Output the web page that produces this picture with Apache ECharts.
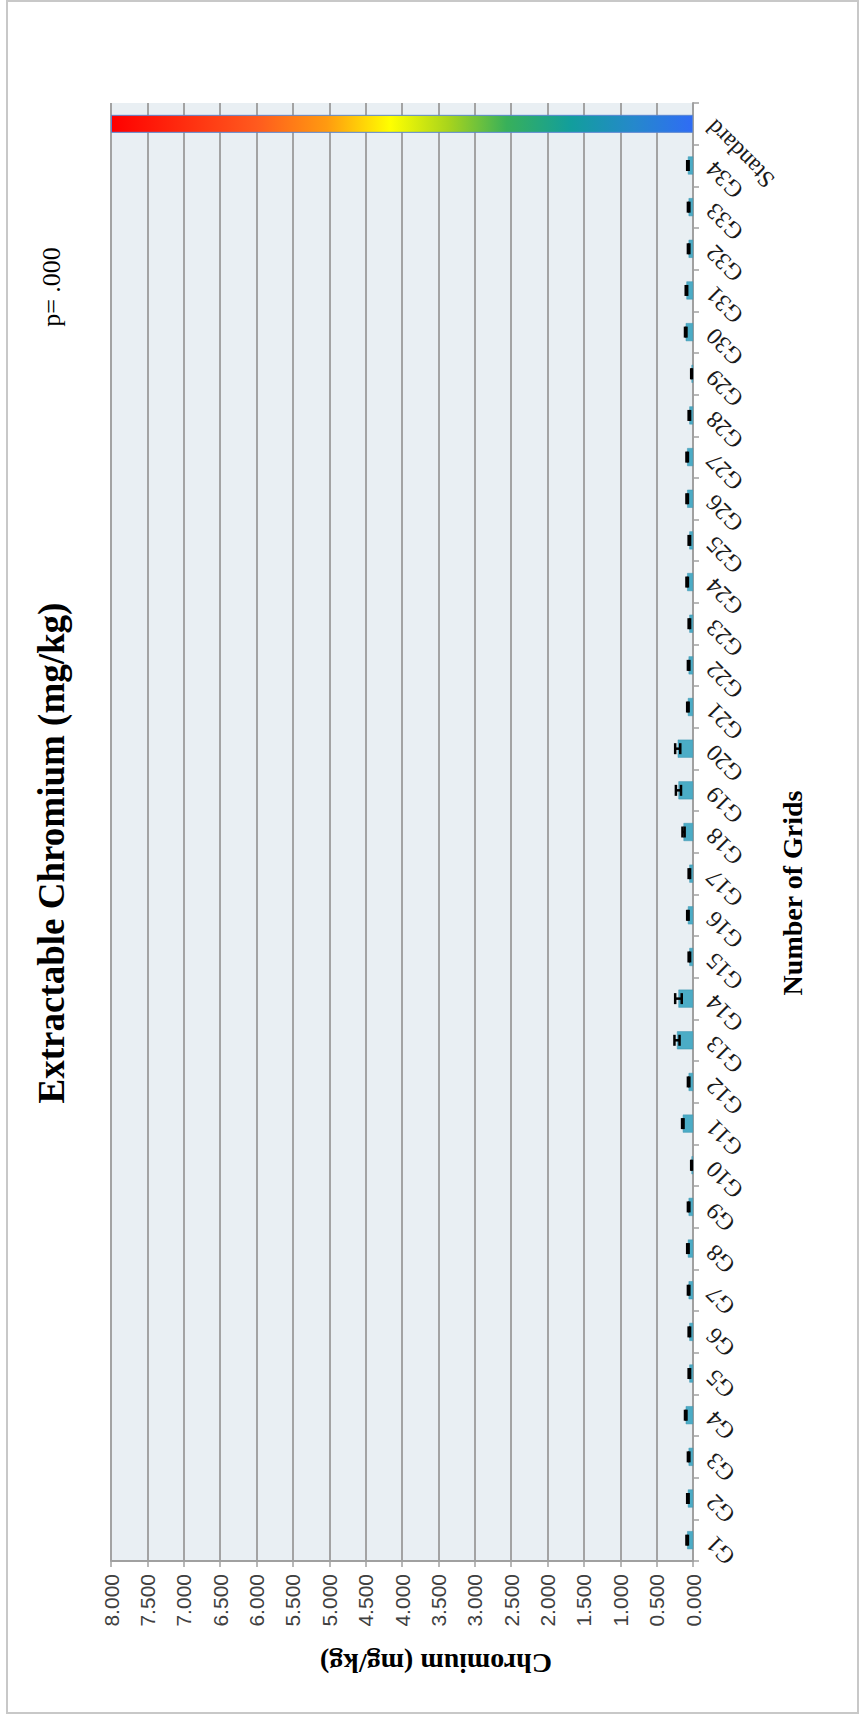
<!DOCTYPE html>
<html><head><meta charset="utf-8">
<script src="https://cdn.jsdelivr.net/npm/echarts@6/dist/echarts.min.js"></script>
<style>html,body{margin:0;padding:0;background:#fff}#c{width:861px;height:1718px}</style>
</head><body><div id="c"></div>
<script>
const categories = ['G1','G2','G3','G4','G5','G6','G7','G8','G9','G10','G11','G12','G13','G14','G15','G16','G17','G18','G19','G20','G21','G22','G23','G24','G25','G26','G27','G28','G29','G30','G31','G32','G33','G34','Standard'];
const means = [0.08,0.07,0.06,0.10,0.05,0.05,0.06,0.07,0.06,0.02,0.14,0.06,0.22,0.20,0.05,0.07,0.05,0.13,0.20,0.21,0.07,0.06,0.05,0.08,0.05,0.08,0.08,0.05,0.02,0.10,0.09,0.06,0.06,0.07,8.0];
const errors = [0.01,0.01,0.01,0.01,0.01,0.01,0.01,0.01,0.01,0.005,0.01,0.01,0.035,0.045,0.01,0.01,0.01,0.015,0.035,0.035,0.01,0.01,0.01,0.01,0.01,0.01,0.01,0.01,0.005,0.01,0.01,0.01,0.01,0.01,null];
const titleText = 'Extractable Chromium (mg/kg)';
const pText = 'p= .000';
const xName = 'Number of Grids';
const yName = 'Chromium (mg/kg)';

const serif = '"Liberation Serif", "Times New Roman", serif';
const sans = '"Liberation Sans", Arial, sans-serif';

const gradient = new echarts.graphic.LinearGradient(0, 0, 1, 0, [
  {offset: 0, color: '#ff0000'},
  {offset: 0.25, color: '#ff5a1e'},
  {offset: 0.37, color: '#ff9a10'},
  {offset: 0.48, color: '#ffff00'},
  {offset: 0.58, color: '#a8d41c'},
  {offset: 0.68, color: '#38b05a'},
  {offset: 0.79, color: '#129e9c'},
  {offset: 0.9, color: '#2588cc'},
  {offset: 1, color: '#2f6cf5'}
]);

const barData = means.map((v, i) => categories[i] === 'Standard'
  ? {value: v, itemStyle: {color: gradient, borderColor: '#5b86d0', borderWidth: 1}}
  : v);

const errData = [];
means.forEach((v, i) => {
  if (errors[i] != null) errData.push([categories[i], v - errors[i], v + errors[i]]);
});

const chart = echarts.init(document.getElementById('c'), null, {renderer: 'svg'});
chart.setOption({
  animation: false,
  backgroundColor: '#ffffff',
  grid: {left: 111, right: 168, top: 103, bottom: 157, show: true, backgroundColor: '#e9eff3', borderWidth: 0},
  xAxis: {
    type: 'value', inverse: true, min: 0, max: 8, interval: 0.5, position: 'bottom',
    axisLine: {show: true, lineStyle: {color: '#a0a0a0', width: 2}},
    axisTick: {show: true, length: 6, lineStyle: {color: '#a0a0a0', width: 1.5}},
    splitLine: {show: true, lineStyle: {color: '#a3a3a3', width: 2}},
    axisLabel: {rotate: 90, margin: 13, fontFamily: sans, fontSize: 21, color: '#404040',
      formatter: v => v.toFixed(3)}
  },
  yAxis: {
    type: 'category', data: categories, position: 'right',
    axisLine: {show: true, lineStyle: {color: '#a0a0a0', width: 2}},
    axisTick: {show: true, length: 6, alignWithLabel: false, lineStyle: {color: '#a0a0a0', width: 1.5}},
    splitLine: {show: false},
    axisLabel: {interval: 0, rotate: 135, align: 'right', verticalAlign: 'middle', margin: 17,
      fontFamily: serif, fontSize: 24, color: '#1a1a1a'}
  },
  series: [
    {type: 'bar', data: barData, barWidth: 18,
      itemStyle: {color: '#4bacc6', borderColor: '#3b93ae', borderWidth: 0.5}},
    {type: 'custom', z: 5,
      renderItem: function (params, api) {
        const cat = api.value(0);
        const a = api.coord([api.value(1), cat]);
        const b = api.coord([api.value(2), cat]);
        const h = 11;
        const st = {stroke: '#000000', lineWidth: 2.5};
        return {type: 'group', children: [
          {type: 'line', shape: {x1: a[0], y1: a[1], x2: b[0], y2: b[1]}, style: st},
          {type: 'line', shape: {x1: a[0], y1: a[1] - h / 2, x2: a[0], y2: a[1] + h / 2}, style: st},
          {type: 'line', shape: {x1: b[0], y1: b[1] - h / 2, x2: b[0], y2: b[1] + h / 2}, style: st}
        ]};
      },
      encode: {x: [1, 2], y: 0},
      data: errData}
  ],
  graphic: [
    {type: 'rect', z: -10, shape: {x: 7, y: 1, width: 851, height: 1712},
      style: {fill: 'none', stroke: '#c8c8c8', lineWidth: 2}},
    {type: 'text', x: 51, y: 853, rotation: Math.PI / 2,
      style: {text: titleText, font: 'bold 37px ' + serif, fill: '#000', align: 'center', verticalAlign: 'middle'}},
    {type: 'text', x: 51, y: 287, rotation: Math.PI / 2,
      style: {text: pText, font: '26px ' + serif, fill: '#000', align: 'center', verticalAlign: 'middle'}},
    {type: 'text', x: 792, y: 893, rotation: Math.PI / 2,
      style: {text: xName, font: 'bold 28px ' + serif, fill: '#000', align: 'center', verticalAlign: 'middle'}},
    {type: 'text', x: 436, y: 1663, rotation: Math.PI,
      style: {text: yName, font: 'bold 28px ' + serif, fill: '#000', align: 'center', verticalAlign: 'middle'}}
  ]
});
</script></body></html>
